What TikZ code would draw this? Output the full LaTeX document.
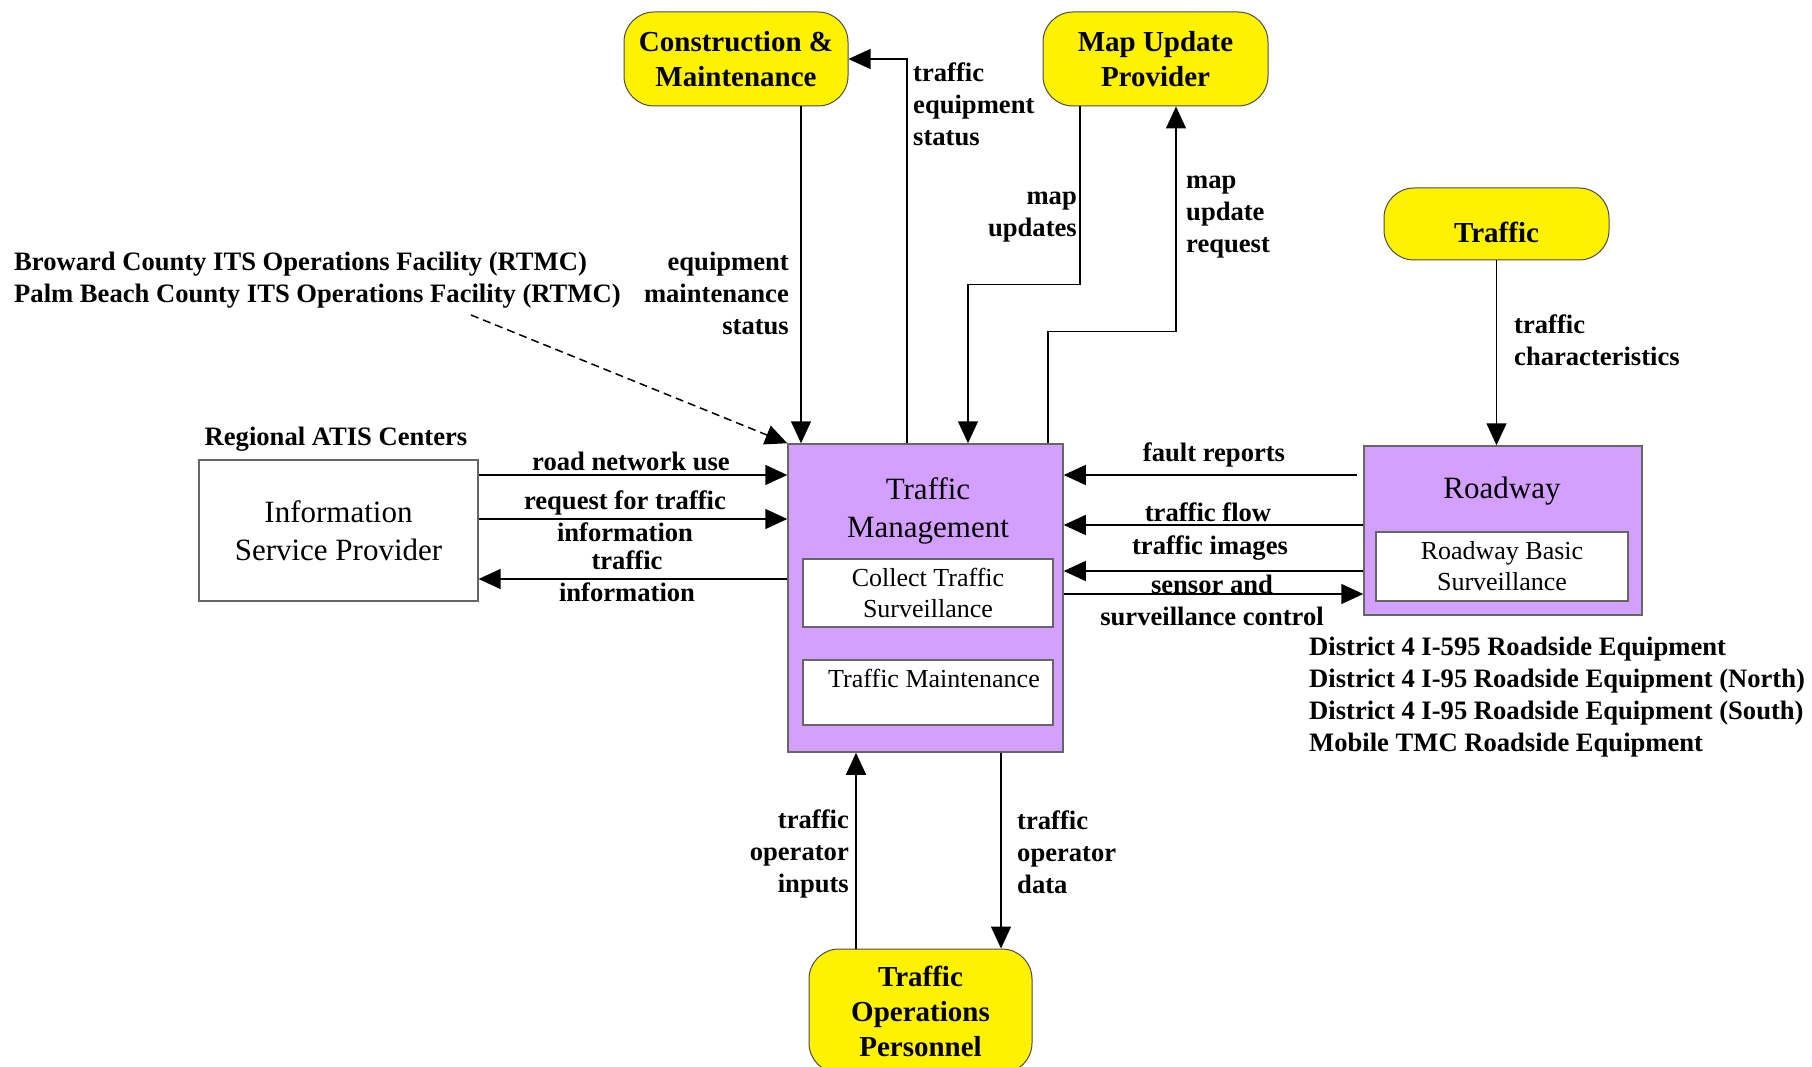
\documentclass[tikz,border=0pt]{standalone}
\usepackage{fontspec}
\setmainfont{Liberation Serif}
\usetikzlibrary{arrows.meta,positioning}
\definecolor{sysviolet}{RGB}{212,160,255}

\begin{document}
\begin{tikzpicture}[x=1pt,y=-1pt,
    extbox/.style={draw=black!70, fill=yellow, rounded corners=30pt, line width=1pt, inner sep=0pt, align=center, font=\bfseries\fontsize{29}{35}\selectfont},
    sysbox/.style={draw=black!60, fill=sysviolet, line width=1.5pt, inner sep=0pt},
    isbox/.style={draw=black!60, fill=white, line width=1.2pt, inner sep=0pt},
    title/.style={align=center, font=\fontsize{31}{38}\selectfont},
    subtitle/.style={align=center, font=\fontsize{26}{31}\selectfont},
    lbl/.style={font=\bfseries\fontsize{26.6}{32}\selectfont, inner sep=0pt},
    flow/.style={line width=1.5pt, -{Triangle[length=22pt,width=20pt]}},
    dashflow/.style={flow, dash pattern=on 8pt off 5pt}]

            \useasboundingbox (0,0) rectangle (1812,1067);

            % Define nodes
            \node[extbox, minimum width=224pt, minimum height=94pt] (cm) at (736,59) {Construction \&\\Maintenance};
            \node[extbox, minimum width=225pt, minimum height=94pt] (mup) at (1155.5,59) {Map Update\\Provider};
            \node[extbox, minimum width=225pt, minimum height=72pt, text height=38pt, text depth=0pt] (trf) at (1496.5,224) {Traffic};
            \node[extbox, minimum width=223pt, minimum height=124pt] (top) at (920.5,1011) {Traffic\\Operations\\Personnel};

            \node[sysbox, minimum width=275pt, minimum height=308pt] (tm) at (925.5,598) {};
            \node[title] (tmtitle) at (928,511) {Traffic\\Management};
            \node[isbox, subtitle, minimum width=250pt, minimum height=68pt] (cts) at (928,593) {Collect Traffic\\Surveillance};
            \node[isbox, minimum width=250pt, minimum height=65pt] (tmaint) at (928,692.5) {};
            \node[subtitle] (tmainttxt) at (934,678) {Traffic Maintenance};

            \node[isbox, title, minimum width=279pt, minimum height=141pt] (isp) at (338.5,530.5) {Information\\Service Provider};
            \node[sysbox, minimum width=278pt, minimum height=169pt] (rdw) at (1503,530.5) {};
            \node[title] (rdwtitle) at (1502,491) {Roadway};
            \node[isbox, subtitle, minimum width=252pt, minimum height=69pt] (rbs) at (1502,566.5) {Roadway Basic\\Surveillance};

            % Labels
            \node[lbl, align=left, anchor=west] (brw) at (14,280) {Broward County ITS Operations Facility (RTMC)\\Palm Beach County ITS Operations Facility (RTMC)};
            \node[lbl] (atis) at (336,439) {Regional ATIS Centers};
            \node[lbl, align=left, anchor=west] (dist) at (1309,697) {District 4 I-595 Roadside Equipment\\District 4 I-95 Roadside Equipment (North)\\District 4 I-95 Roadside Equipment (South)\\Mobile TMC Roadside Equipment};

            \node[lbl, align=left, anchor=west] (teqs) at (913,104) {traffic\\equipment\\status};
            \node[lbl, align=right, anchor=east] (ems) at (789,293) {equipment\\maintenance\\status};
            \node[lbl, align=right, anchor=east] (mapu) at (1077,217) {map\\updates};
            \node[lbl, align=left, anchor=west] (mapr) at (1186,217) {map\\update\\request};
            \node[lbl, align=left, anchor=west] (tchar) at (1514,340) {traffic\\characteristics};
            \node[lbl] (rnu) at (631,461) {road network use};
            \node[lbl, align=center] (rfti) at (625,516) {request for traffic\\information};
            \node[lbl, align=center] (tinfo) at (627,576) {traffic\\information};
            \node[lbl] (fault) at (1214,455) {fault reports};
            \node[lbl] (tflow) at (1208,512) {traffic flow};
            \node[lbl] (timg) at (1210,548) {traffic images};
            \node[lbl, align=center] (ssc) at (1212,600) {sensor and\\surveillance control};
            \node[lbl, align=right, anchor=east] (toi) at (849,854) {traffic\\operator\\inputs};
            \node[lbl, align=left, anchor=west] (tod) at (1017,852) {traffic\\operator\\data};

            % Draw edges
            \draw[flow] ([xshift=65pt]cm.south) -- ([xshift=-124.5pt]tm.north);
            \draw[flow] ([xshift=-18.5pt]tm.north) |- (cm.east);
            \draw[flow] ([xshift=-75.5pt]mup.south) -- ++(0,178) -| ([xshift=42.5pt]tm.north);
            \draw[flow] ([xshift=122.5pt]tm.north) -- ++(0,-112) -| ([xshift=20.5pt]mup.south);
            \draw[flow] (trf.south) -- (trf.south |- rdw.north);

            \coordinate (dashstart) at (471,315);
            \draw[dashflow] (dashstart) -- (tm.north west);

            \draw[flow] ([yshift=55.5pt]isp.east) -- ([yshift=123pt]tm.west);
            \draw[flow] ([yshift=11.5pt]isp.east) -- ([yshift=79pt]tm.west);
            \draw[flow] ([yshift=19pt]tm.west) -- ([yshift=-48.5pt]isp.east);

            \draw[flow] ([xshift=-6pt,yshift=55.5pt]rdw.west) -- ([yshift=123pt]tm.east);
            \draw[flow] ([yshift=5.5pt]rdw.west) -- ([yshift=73pt]tm.east);
            \draw[flow] ([yshift=-40.5pt]rdw.west) -- ([yshift=27pt]tm.east);
            \draw[flow] ([yshift=4pt]tm.east) -- ([yshift=-63.5pt]rdw.west);

            \draw[flow] ([xshift=-64.5pt]top.north) -- ([xshift=-69.5pt]tm.south);
            \draw[flow] ([xshift=75.5pt]tm.south) -- ([xshift=80.5pt]top.north);

        \end{tikzpicture}
\end{document}
